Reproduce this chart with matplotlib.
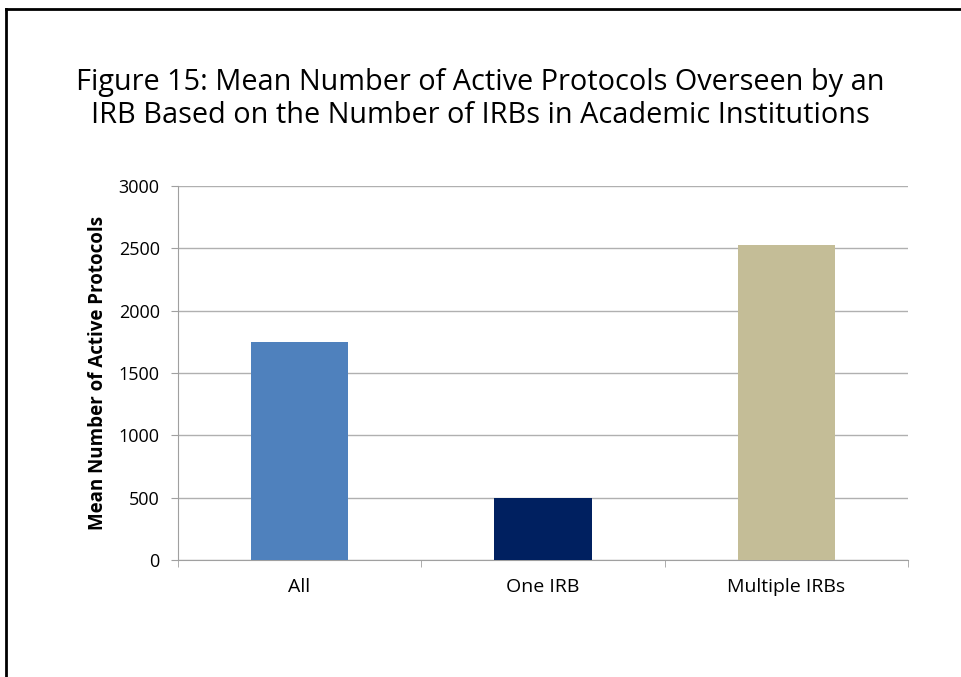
import numpy as np
import matplotlib.pyplot as plt
from matplotlib.lines import Line2D

categories = ["All", "One IRB", "Multiple IRBs"]
values = [1750, 500, 2525]
colors = ["#4f81bd", "#002060", "#c4bd97"]

plt.rcParams['font.family'] = ['Open Sans', 'DejaVu Sans']

fig = plt.figure(figsize=(9.61, 6.77), dpi=100)
ax = fig.add_axes([0.185, 0.173, 0.76, 0.552])

x = np.arange(len(categories))
ax.bar(x, values, width=0.4, color=colors, zorder=3)

ax.set_xlim(-0.5, len(categories) - 0.5)
ax.set_ylim(0, 3000)
ax.set_yticks(np.arange(0, 3001, 500))
ax.set_xticks(x)
ax.set_xticklabels(categories, fontsize=14)
ax.set_xticks(np.arange(-0.5, len(categories), 1), minor=True)
ax.tick_params(axis='x', which='major', length=0, pad=13)
ax.tick_params(axis='x', which='minor', length=5, color='#a0a0a0', direction='out')
ax.tick_params(axis='y', length=5, color='#a0a0a0', labelsize=13, pad=8)
ax.yaxis.grid(True, color='#b0b0b0', linewidth=1, zorder=0)
for s in ['top', 'right']:
    ax.spines[s].set_visible(False)
for s in ['left', 'bottom']:
    ax.spines[s].set_color('#a0a0a0')
ax.set_ylabel("Mean Number of Active Protocols", fontsize=13.5, fontweight='bold', labelpad=8)

fig.text(0.5, 0.854,
         "Figure 15: Mean Number of Active Protocols Overseen by an\nIRB Based on the Number of IRBs in Academic Institutions",
         ha='center', va='center', fontsize=20.8, linespacing=1.2)

# outer chart frame (left and top edges visible)
fig.add_artist(Line2D([0.006, 0.006], [0, 0.987], transform=fig.transFigure, color='black', lw=2))
fig.add_artist(Line2D([0.006, 1.0], [0.987, 0.987], transform=fig.transFigure, color='black', lw=2))

plt.savefig("out.png", dpi=100)
